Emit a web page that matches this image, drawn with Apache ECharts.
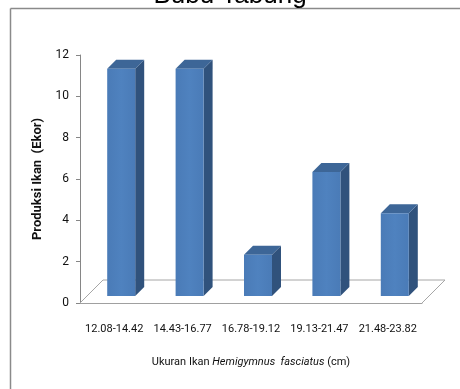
<!DOCTYPE html>
<html>
<head>
<meta charset="utf-8">
<script src="https://cdn.jsdelivr.net/npm/echarts@6/dist/echarts.min.js"></script>
<style>
html,body{margin:0;padding:0;background:#fff;}
#chart{width:460px;height:389px;}
</style>
</head>
<body>
<div id="chart"></div>
<script>
const title = 'Bubu Tabung';
const categories = ['12.08-14.42', '14.43-16.77', '16.78-19.12', '19.13-21.47', '21.48-23.82'];
const values = [11, 11, 2, 6, 4];
const yTicks = { min: 0, max: 12, interval: 2 };
const yName = 'Produksi Ikan  (Ekor)';

const FONT = 'Roboto, "Open Sans", sans-serif';
const SHIFT = 7;     // bar placed mid-depth of the floor
const DEPTH = 9;     // oblique depth of each bar
const FLOOR = 23;    // oblique depth of the floor
const BARW = 28;

const chart = echarts.init(document.getElementById('chart'));
chart.setOption({
  animation: false,
  backgroundColor: '#fff',
  title: {
    text: title, left: 'center', top: -17, padding: 0,
    textStyle: { fontFamily: 'Liberation Sans, Arial, sans-serif', fontSize: 26, fontWeight: 'normal', color: '#000' }
  },
  graphic: [
    { type: 'line', shape: { x1: 10.5, y1: 8.5, x2: 460, y2: 8.5 }, style: { stroke: '#8a8a8a', lineWidth: 1.5 } },
    { type: 'line', shape: { x1: 10.5, y1: 8.5, x2: 10.5, y2: 389 }, style: { stroke: '#8a8a8a', lineWidth: 1.5 } }
  ],
  grid: { left: 80, right: 38, top: 55, bottom: 86 },
  xAxis: {
    type: 'category', data: categories,
    axisLine: { show: true, lineStyle: { color: '#a0a0a0', width: 1 } },
    axisTick: { show: false },
    axisLabel: { interval: 0, margin: 21, fontFamily: FONT, fontSize: 11, color: '#111' },
    name: '{n|Ukuran Ikan }{i|Hemigymnus  fasciatus}{n| (cm)}',
    nameLocation: 'middle', nameGap: 54,
    nameTextStyle: {
      rich: {
        n: { fontFamily: FONT, fontSize: 11, color: '#111' },
        i: { fontFamily: FONT, fontSize: 11, fontStyle: 'italic', color: '#111' }
      }
    }
  },
  yAxis: {
    type: 'value', min: yTicks.min, max: yTicks.max, interval: yTicks.interval,
    axisLine: { show: true, lineStyle: { color: '#868686' } },
    axisTick: { show: true, length: 4, lineStyle: { color: '#868686' } },
    splitLine: { show: false },
    axisLabel: { margin: 11, fontFamily: FONT, fontSize: 12, color: '#111' },
    name: yName, nameLocation: 'middle', nameGap: 33, nameRotate: 90,
    nameTextStyle: { fontFamily: FONT, fontSize: 13, fontWeight: 'bold', color: '#111' }
  },
  series: [
    {
      type: 'custom', z: 1, silent: true,
      data: [0],
      renderItem: function (params, api) {
        const cs = params.coordSys;
        const l = cs.x, r = cs.x + cs.width, b = cs.y + cs.height;
        return {
          type: 'polyline',
          shape: { points: [[l, b], [l + FLOOR, b - FLOOR], [r + FLOOR, b - FLOOR], [r, b]] },
          style: { stroke: '#a6a6a6', lineWidth: 1, fill: null }
        };
      }
    },
    {
      type: 'custom', z: 3,
      data: values.map((v, i) => [i, v]),
      encode: { x: 0, y: 1 },
      renderItem: function (params, api) {
        const top = api.coord([api.value(0), api.value(1)]);
        const base = api.coord([api.value(0), 0]);
        const x0 = base[0] + SHIFT - BARW / 2, x1 = x0 + BARW;
        const yb = base[1] - SHIFT, yt = top[1] - SHIFT;
        return {
          type: 'group',
          children: [
            { type: 'polygon', shape: { points: [[x1, yb], [x1 + DEPTH, yb - DEPTH], [x1 + DEPTH, yt - DEPTH], [x1, yt]] },
              style: { fill: '#30527c' } },
            { type: 'polygon', shape: { points: [[x0, yt], [x0 + DEPTH, yt - DEPTH], [x1 + DEPTH, yt - DEPTH], [x1, yt]] },
              style: { fill: '#3d6697' } },
            { type: 'rect', shape: { x: x0, y: yt, width: BARW, height: yb - yt },
              style: { fill: new echarts.graphic.LinearGradient(0, 0, 1, 0, [
                { offset: 0, color: '#4a7bb7' }, { offset: 0.5, color: '#4f82bf' }, { offset: 1, color: '#4a7bb7' }]) } }
          ]
        };
      }
    }
  ]
});
</script>
</body>
</html>
